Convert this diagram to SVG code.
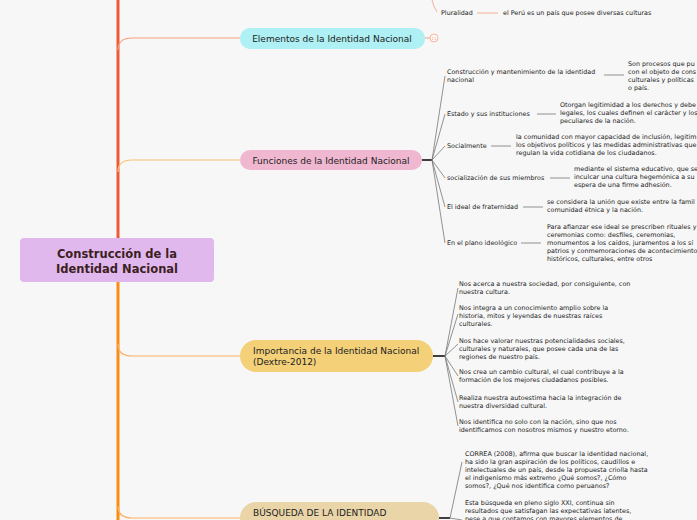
<svg xmlns="http://www.w3.org/2000/svg" width="697" height="520" viewBox="0 0 697 520">
<style>
.s{font-family:"DejaVu Sans",Verdana,sans-serif;font-size:6.4px;fill:#222}
.n{font-family:"DejaVu Sans",Verdana,sans-serif;font-size:9px;fill:#222}
.g{stroke:#777;stroke-width:0.8;fill:none}
.k{stroke:#111;stroke-width:1.6;fill:none}
</style>
<rect width="697" height="520" fill="#f7f7f7"/>
<g id="connectors">
<path d="M118 0V240" stroke="#ec5b35" stroke-width="3" fill="none"/>
<path d="M118 240V520" stroke="#fb8c10" stroke-width="3" fill="none"/>
<path d="M118 50Q118 38 132 38H240" stroke="#f4a080" stroke-width="1.2" fill="none"/>
<path d="M118 172Q118 160 132 160H240" stroke="#fbc070" stroke-width="1.2" fill="none"/>
<path d="M118 344Q118 356 132 356H240" stroke="#fbb060" stroke-width="1.2" fill="none"/>
<path d="M118 506Q118 518 132 518H240" stroke="#fbb060" stroke-width="1.2" fill="none"/>
<path d="M432 0Q434 8 437 12" stroke="#f4a080" stroke-width="0.8" fill="none"/>
<path d="M477 13H498" stroke="#f4a080" stroke-width="0.8"/>
<path d="M425 38H430" stroke="#f4a080" stroke-width="1"/>
<path class="k" d="M422 160H432"/>
<path class="g" d="M432 160L445 76M432 160L445 114M432 160L445 146M432 160L445 178M432 160L445 207M432 160L445 243"/>
<path class="g" d="M604 75H624M537 114H556M491 146H511M550 178H570M523 207H543M521 243H541"/>
<path class="k" d="M433 356H445"/>
<path class="g" d="M445 356L458 288M445 356L458 314M445 356L458 344M445 356L458 376M445 356L458 402M445 356L458 426"/>
<path class="k" d="M439 518H450"/>
<path class="g" d="M450 518L462 462M450 518L462 520"/>
</g>
<g id="center">
<rect x="20" y="238" width="194" height="44" rx="4" fill="#e1b8ee"/>
<text x="117" y="258" text-anchor="middle" font-family="DejaVu Sans,Verdana,sans-serif" font-size="11.5" font-weight="bold" fill="#3b1f1f">Construcción de la</text>
<text x="117" y="273" text-anchor="middle" font-family="DejaVu Sans,Verdana,sans-serif" font-size="11.5" font-weight="bold" fill="#3b1f1f">Identidad Nacional</text>
</g>
<g id="pluralidad">
<text class="s" x="441" y="15">Pluralidad</text>
<text class="s" x="503" y="15">el Perú es un país que posee diversas culturas</text>
</g>
<g id="elementos">
<rect x="240" y="28" width="185" height="21" rx="10" fill="#aef0f3"/>
<text class="n" x="332" y="42" text-anchor="middle">Elementos de la Identidad Nacional</text>
<circle cx="434" cy="38" r="4" fill="#fff" stroke="#f4a080" stroke-width="0.8"/>
<text x="434" y="40" text-anchor="middle" font-family="DejaVu Sans,sans-serif" font-size="4.5" fill="#f4a080">11</text>
</g>
<g id="funciones">
<rect x="240" y="150" width="182" height="20" rx="10" fill="#f0b8d0"/>
<text class="n" x="331" y="163.5" text-anchor="middle">Funciones de la Identidad Nacional</text>
</g>
<g id="funciones-hijos">
<text class="s" x="447" y="74">Construcción y mantenimiento de la identidad</text>
<text class="s" x="447" y="82">nacional</text>
<text class="s" x="628" y="66">Son procesos que pu</text>
<text class="s" x="628" y="74">con el objeto de cons</text>
<text class="s" x="628" y="82">culturales y políticas</text>
<text class="s" x="628" y="90">o país.</text>
<text class="s" x="447" y="116">Estado y sus instituciones</text>
<text class="s" x="560" y="107">Otorgan legitimidad a los derechos y debe</text>
<text class="s" x="560" y="115">legales, los cuales definen el carácter y los</text>
<text class="s" x="560" y="123">peculiares de la nación.</text>
<text class="s" x="447" y="148">Socialmente</text>
<text class="s" x="516" y="139">la comunidad con mayor capacidad de inclusión, legitim</text>
<text class="s" x="516" y="147">los objetivos políticos y las medidas administrativas que</text>
<text class="s" x="516" y="155">regulan la vida cotidiana de los ciudadanos.</text>
<text class="s" x="447" y="180">socialización de sus miembros</text>
<text class="s" x="574" y="171">mediante el sistema educativo, que se</text>
<text class="s" x="574" y="179">inculcar una cultura hegemónica a su</text>
<text class="s" x="574" y="187">espera de una firme adhesión.</text>
<text class="s" x="447" y="209">El ideal de fraternidad</text>
<text class="s" x="547" y="204">se considera la unión que existe entre la famil</text>
<text class="s" x="547" y="212">comunidad étnica y la nación.</text>
<text class="s" x="447" y="245">En el plano ideológico</text>
<text class="s" x="547" y="229">Para afianzar ese ideal se prescriben rituales y</text>
<text class="s" x="547" y="237">ceremonias como: desfiles, ceremonias,</text>
<text class="s" x="547" y="245">monumentos a los caídos, juramentos a los sí</text>
<text class="s" x="547" y="253">patrios y conmemoraciones de acontecimiento</text>
<text class="s" x="547" y="261">históricos, culturales, entre otros</text>
</g>
<g id="importancia">
<rect x="240" y="340" width="193" height="32" rx="16" fill="#f4d078"/>
<text class="n" x="253" y="354">Importancia de la Identidad Nacional</text>
<text class="n" x="253" y="365">(Dextre-2012)</text>
</g>
<g id="importancia-hijos">
<text class="s" x="459" y="286">Nos acerca a nuestra sociedad, por consiguiente, con</text>
<text class="s" x="459" y="294">nuestra cultura.</text>
<text class="s" x="459" y="310">Nos integra a un conocimiento amplio sobre la</text>
<text class="s" x="459" y="318">historia, mitos y leyendas de nuestras raíces</text>
<text class="s" x="459" y="326">culturales.</text>
<text class="s" x="459" y="343">Nos hace valorar nuestras potencialidades sociales,</text>
<text class="s" x="459" y="351">culturales y naturales, que posee cada una de las</text>
<text class="s" x="459" y="359">regiones de nuestro país.</text>
<text class="s" x="459" y="374">Nos crea un cambio cultural, el cual contribuye a la</text>
<text class="s" x="459" y="382">formación de los mejores ciudadanos posibles.</text>
<text class="s" x="459" y="400">Realiza nuestra autoestima hacia la integración de</text>
<text class="s" x="459" y="408">nuestra diversidad cultural.</text>
<text class="s" x="459" y="424">Nos identifica no solo con la nación, sino que nos</text>
<text class="s" x="459" y="432">identificamos con nosotros mismos y nuestro etorno.</text>
</g>
<g id="busqueda">
<rect x="240" y="502" width="199" height="34" rx="16" fill="#ead5a8"/>
<text class="n" x="253" y="516">BÚSQUEDA DE LA IDENTIDAD</text>
</g>
<g id="busqueda-hijos">
<text class="s" x="465" y="456">CORREA (2008), afirma que buscar la identidad nacional,</text>
<text class="s" x="465" y="464">ha sido la gran aspiración de los políticos, caudillos e</text>
<text class="s" x="465" y="472">intelectuales de un país, desde la propuesta criolla hasta</text>
<text class="s" x="465" y="480">el indigenismo más extremo ¿Qué somos?, ¿Cómo</text>
<text class="s" x="465" y="488">somos?, ¿Qué nos identifica como peruanos?</text>
<text class="s" x="465" y="505">Esta búsqueda en pleno siglo XXI, continua sin</text>
<text class="s" x="465" y="513">resultados que satisfagan las expectativas latentes,</text>
<text class="s" x="465" y="521">pese a que contamos con mayores elementos de</text>
</g>
</svg>
